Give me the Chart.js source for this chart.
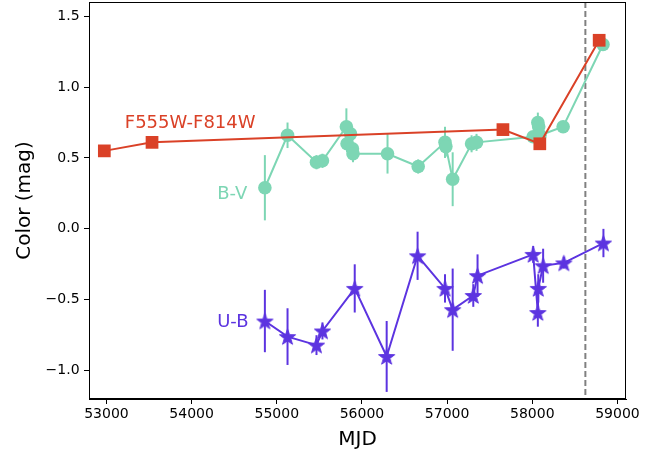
<!DOCTYPE html>
<html>
<head>
<meta charset="utf-8">
<script src="https://cdn.jsdelivr.net/npm/chart.js@4.4.1/dist/chart.umd.min.js"></script>
<style>
  html, body { margin: 0; padding: 0; background: #fff; }
  #wrap { width: 668px; height: 455px; }
</style>
</head>
<body>
<div id="wrap"><canvas id="colorChart" width="668" height="455"></canvas></div>
<script>
// values
const hstMjd   = [52975, 53535, 57655, 58088, 58785];
const hstColor = [0.55, 0.61, 0.70, 0.60, 1.33];
const hstErr   = [0.01, 0.02, 0.01, 0.02, 0.01];

const bvMjd   = [54860, 55126, 55466, 55536, 55817, 55825, 55865, 55888, 55895, 56300, 56660, 56975, 56985, 57065, 57287, 57345, 58010, 58065, 58075, 58090, 58362, 58830];
const bvColor = [0.29, 0.66, 0.47, 0.48, 0.72, 0.60, 0.67, 0.565, 0.53, 0.53, 0.44, 0.61, 0.58, 0.35, 0.60, 0.61, 0.65, 0.75, 0.72, 0.66, 0.72, 1.30];
const bvErr   = [0.23, 0.09, 0.05, 0.05, 0.13, 0.06, 0.08, 0.08, 0.06, 0.14, 0.05, 0.11, 0.07, 0.19, 0.06, 0.06, 0.04, 0.07, 0.05, 0.05, 0.03, 0.04];

const ubMjd   = [54860, 55126, 55466, 55536, 55915, 56290, 56653, 56975, 57065, 57307, 57357, 58010, 58065, 58070, 58127, 58370, 58835];
const ubColor = [-0.65, -0.76, -0.82, -0.72, -0.42, -0.90, -0.19, -0.42, -0.57, -0.47, -0.33, -0.18, -0.59, -0.42, -0.26, -0.24, -0.10];
const ubErr   = [0.22, 0.20, 0.07, 0.06, 0.17, 0.25, 0.17, 0.10, 0.29, 0.08, 0.15, 0.06, 0.10, 0.10, 0.12, 0.04, 0.10];

const xTicks = [53000, 54000, 55000, 56000, 57000, 58000, 59000];
const yTicks = [-1.0, -0.5, 0.0, 0.5, 1.0, 1.5];
const dashedMjd = 58623;

const RED = '#da4127';
const TEAL = '#7dd6b4';
const PURPLE = '#5c34e0';
const FONT = 'DejaVu Sans';

function toPoints(xs, ys, es) {
  return xs.map((x, i) => ({ x: x, y: ys[i], err: es[i] }));
}

// filled five point star, like matplotlib's '*'
function makeStar(color, r) {
  const c = document.createElement('canvas');
  const size = Math.ceil(r * 2 + 4);
  c.width = c.height = size;
  const g = c.getContext('2d');
  g.translate(size / 2, size / 2 + r * 0.1);
  g.beginPath();
  for (let i = 0; i < 10; i++) {
    const rad = i % 2 ? r * 0.4 : r;
    const a = -Math.PI / 2 + i * Math.PI / 5;
    g.lineTo(rad * Math.cos(a), rad * Math.sin(a));
  }
  g.closePath();
  g.fillStyle = color;
  g.fill();
  g.lineWidth = 1;
  g.strokeStyle = color;
  g.stroke();
  return c;
}

// vertical error bars + the dashed marker line, under the datasets
const underlay = {
  id: 'underlay',
  beforeDatasetsDraw(chart) {
    const { ctx, scales: { x, y }, chartArea } = chart;
    ctx.save();
    const px = x.getPixelForValue(dashedMjd);
    ctx.strokeStyle = '#808080';
    ctx.lineWidth = 2;
    ctx.setLineDash([6, 3]);
    ctx.beginPath();
    ctx.moveTo(px, chartArea.top);
    ctx.lineTo(px, chartArea.bottom);
    ctx.stroke();
    ctx.setLineDash([]);

    chart.data.datasets.forEach(ds => {
      ctx.strokeStyle = ds.borderColor;
      ctx.lineWidth = 2;
      ds.data.forEach(p => {
        const bx = x.getPixelForValue(p.x);
        ctx.beginPath();
        ctx.moveTo(bx, y.getPixelForValue(p.y - p.err));
        ctx.lineTo(bx, y.getPixelForValue(p.y + p.err));
        ctx.stroke();
      });
    });
    ctx.restore();
  }
};

// series names written in the plot, plus the top/right frame
const overlay = {
  id: 'overlay',
  afterDraw(chart) {
    const { ctx, scales: { x, y }, chartArea } = chart;
    ctx.save();
    ctx.strokeStyle = '#000';
    ctx.lineWidth = 1;
    ctx.strokeRect(chartArea.left + 0.5, chartArea.top + 0.5,
      chartArea.right - chartArea.left - 1, chartArea.bottom - chartArea.top - 1);

    ctx.font = '18px "' + FONT + '"';
    ctx.textAlign = 'left';
    ctx.textBaseline = 'middle';
    const labels = [
      ['F555W-F814W', 53215, 0.745, RED],
      ['B-V', 54300, 0.245, TEAL],
      ['U-B', 54300, -0.66, PURPLE]
    ];
    labels.forEach(([txt, mx, my, col]) => {
      ctx.fillStyle = col;
      ctx.fillText(txt, x.getPixelForValue(mx), y.getPixelForValue(my));
    });
    ctx.restore();
  }
};

const titleFont = { family: FONT, size: 20 };

new Chart(document.getElementById('colorChart'), {
  type: 'line',
  data: {
    datasets: [
      {
        label: 'F555W-F814W',
        data: toPoints(hstMjd, hstColor, hstErr),
        borderColor: RED,
        backgroundColor: RED,
        borderWidth: 2,
        pointStyle: 'rect',
        pointRadius: 9,
        pointBorderWidth: 0
      },
      {
        label: 'U-B',
        data: toPoints(ubMjd, ubColor, ubErr),
        borderColor: PURPLE,
        backgroundColor: PURPLE,
        borderWidth: 2,
        pointStyle: makeStar(PURPLE, 8.5),
        pointRadius: 8
      },
      {
        label: 'B-V',
        data: toPoints(bvMjd, bvColor, bvErr),
        borderColor: TEAL,
        backgroundColor: TEAL,
        borderWidth: 2,
        pointStyle: 'circle',
        pointRadius: 6.8,
        pointBorderWidth: 0
      }
    ]
  },
  options: {
    responsive: false,
    animation: false,
    layout: { autoPadding: false, padding: { left: 0, right: 42, top: 2, bottom: 0 } },
    plugins: {
      legend: { display: false },
      tooltip: { enabled: false }
    },
    scales: {
      x: {
        type: 'linear',
        min: 52795,
        max: 59100,
        afterBuildTicks: s => { s.ticks = xTicks.map(v => ({ value: v })); },
        afterFit: s => { s.height = 56; },
        ticks: {
          color: '#000',
          font: { family: FONT, size: 14 },
          padding: 2,
          maxRotation: 0,
          autoSkip: false,
          callback: v => String(v)
        },
        grid: { display: true, drawOnChartArea: false, tickLength: 5, tickColor: '#000', tickWidth: 1 },
        border: { display: true, color: '#000', width: 1 },
        title: { display: true, text: 'MJD', color: '#000', font: titleFont, padding: { top: 0, bottom: 3 } }
      },
      y: {
        type: 'linear',
        min: -1.20,
        max: 1.60,
        afterBuildTicks: s => { s.ticks = yTicks.map(v => ({ value: v })); },
        afterFit: s => { s.width = 89; },
        ticks: {
          color: '#000',
          // tiny line height and no padding so no room is kept above the top tick;
          // the trailing space gives the gap to the tick marks instead
          font: { family: FONT, size: 14, lineHeight: 0.1 },
          padding: 0,
          autoSkip: false,
          callback: v => (v < 0 ? '\u2212' : '') + Math.abs(v).toFixed(1) + ' '
        },
        grid: { display: true, drawOnChartArea: false, tickLength: 5, tickColor: '#000', tickWidth: 1 },
        border: { display: true, color: '#000', width: 1 },
        title: { display: true, text: 'Color (mag)', color: '#000', font: titleFont, padding: { top: 13, bottom: 0 } }
      }
    }
  },
  plugins: [underlay, overlay]
});
</script>
</body>
</html>
